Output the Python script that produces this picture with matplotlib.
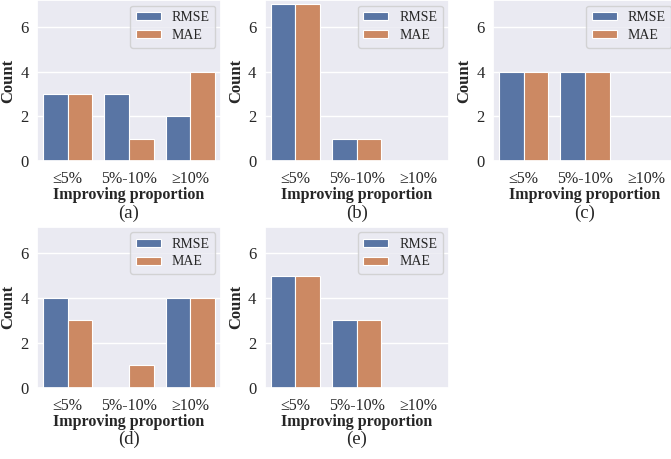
import numpy as np
import seaborn as sns
from matplotlib import pyplot as plt

sns.set_theme(style="darkgrid")
plt.rcParams['font.family'] = ['Liberation Serif', 'DejaVu Serif']

categories = ["≤5%", "5%-10%", "≥10%"]
series_names = ["RMSE", "MAE"]
panel_labels = ["(a)", "(b)", "(c)", "(d)", "(e)"]

rmse_a = [3, 3, 2]
mae_a = [3, 1, 4]
rmse_b = [7, 1, 0]
mae_b = [7, 1, 0]
rmse_c = [4, 4, 0]
mae_c = [4, 4, 0]
rmse_d = [4, 0, 4]
mae_d = [3, 1, 4]
rmse_e = [5, 3, 0]
mae_e = [5, 3, 0]

panels = [(rmse_a, mae_a), (rmse_b, mae_b), (rmse_c, mae_c),
          (rmse_d, mae_d), (rmse_e, mae_e)]

W, H = 671, 459
fig = plt.figure(figsize=(W / 100, H / 100), dpi=100)

# axes boxes in pixels: left, top, width, height
lefts = [37, 264.6, 493]
tops = [0, 226.5]
aw, ah = 184, 161

colors = [sns.desaturate("#4C72B0", 0.75), sns.desaturate("#DD8452", 0.75)]

x = np.arange(len(categories))
bw = 0.4
for i, (rmse, mae) in enumerate(panels):
    r, c = divmod(i, 3)
    ax = fig.add_axes([lefts[c] / W, 1 - (tops[r] + ah) / H, aw / W, ah / H])
    ax.bar(x - bw / 2, rmse, bw, color=colors[0], edgecolor="white", linewidth=0.8, label=series_names[0])
    ax.bar(x + bw / 2, mae, bw, color=colors[1], edgecolor="white", linewidth=0.8, label=series_names[1])
    ax.set_xlim(-0.5, 2.5)
    ax.set_ylim(0, 7.2)
    ax.set_yticks([0, 2, 4, 6])
    ax.set_xticks(x)
    ax.set_xticklabels(categories)
    ax.grid(axis="x", visible=False)
    ax.tick_params(axis="y", labelsize=12, length=0, pad=6)
    ax.tick_params(axis="x", labelsize=11.5, length=0, pad=7.5)
    ax.set_xlabel("Improving proportion", fontsize=11.5, fontweight="bold", labelpad=0)
    ax.set_ylabel("Count", fontsize=12, fontweight="bold")
    ax.yaxis.set_label_coords(-0.112, 0.5)
    ax.legend(loc="upper right", fontsize=10, handlelength=1.8, handleheight=0.5,
              labelspacing=0.35, borderaxespad=0.4)
    ax.text(0.5, -0.325, panel_labels[i], transform=ax.transAxes, ha="center", va="center", fontsize=13.5)

fig.savefig("out.png", dpi=100)
